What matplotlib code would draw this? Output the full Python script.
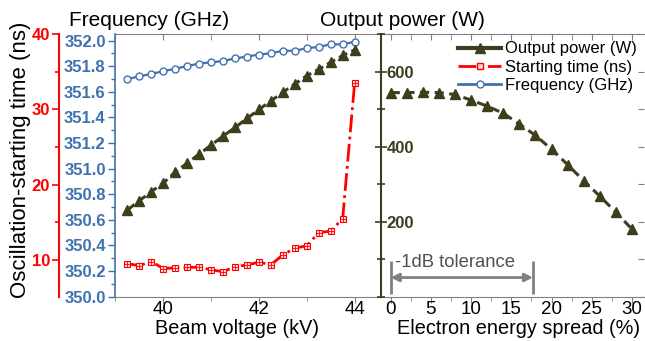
import matplotlib
matplotlib.use("Agg")
import matplotlib.pyplot as plt
from matplotlib.lines import Line2D
from matplotlib.ticker import MultipleLocator

plt.rcParams['font.family'] = ['Liberation Sans', 'DejaVu Sans']

# data
voltage = [39.25, 39.5, 39.75, 40.0, 40.25, 40.5, 40.75, 41.0, 41.25, 41.5,
           41.75, 42.0, 42.25, 42.5, 42.75, 43.0, 43.25, 43.5, 43.75, 44.0]
freq = [351.70, 351.72, 351.74, 351.76, 351.78, 351.80, 351.82, 351.83, 351.84, 351.86,
        351.875, 351.89, 351.90, 351.92, 351.92, 351.94, 351.95, 351.97, 351.97, 351.99]
power_v = [231, 256, 280, 303, 332, 356, 380, 404, 428, 451,
           475, 499, 522, 545, 567, 589, 606, 625, 643, 658]
start_time = [9.47, 9.24, 9.77, 8.84, 8.94, 8.98, 9.03, 8.67, 8.41, 9.11,
              9.30, 9.69, 9.34, 10.66, 11.55, 11.86, 13.62, 13.81, 15.48, 33.5]

spread = [0, 2, 4, 6, 8, 10, 12, 14, 16, 18, 20, 22, 24, 26, 28, 30]
power_s = [544, 544, 545, 544, 539, 524, 508, 489, 460, 430,
           393, 352, 309, 268, 225, 180]

tol_range = [0, 17.7]

OLIVE = '#3e3e1c'
BLUE = '#3f72af'
RED = '#ff0000'
GRAY = '#808080'

fig = plt.figure(figsize=(6.45, 3.41), dpi=100)
ax1 = fig.add_axes([0.179, 0.130, 0.4116, 0.770])
ax_r = fig.add_axes([0.5907, 0.130, 0.4078, 0.770])
ax_r.set_facecolor('none')

# --- left panel: frequency axis (blue)
ax1.plot(voltage, freq, '-', color=BLUE, lw=1.6, marker='o', ms=5,
         mfc='white', mec=BLUE, mew=1, zorder=3)
ax1.set_xlim(39.0, 44.55)
ax1.set_ylim(350.0, 352.05)
ax1.yaxis.set_major_locator(MultipleLocator(0.2))
ax1.yaxis.set_minor_locator(MultipleLocator(0.1))
ax1.yaxis.set_major_formatter(plt.FormatStrFormatter('%.1f'))
ax1.xaxis.set_major_locator(MultipleLocator(2))
ax1.xaxis.set_minor_locator(MultipleLocator(1))
ax1.tick_params(axis='y', which='both', colors=BLUE, direction='out', pad=2)
ax1.tick_params(axis='y', which='major', length=5, width=1)
ax1.tick_params(axis='y', which='minor', length=3, width=1)
ax1.tick_params(axis='x', which='both', direction='out', color=GRAY, labelsize=13.5, pad=-1)
ax1.tick_params(axis='x', which='major', length=4)
ax1.tick_params(axis='x', which='minor', length=3)
for lab in ax1.get_yticklabels():
    lab.set_fontweight('bold')
    lab.set_fontsize(12)
ax1.spines['left'].set_color(BLUE)
ax1.spines['left'].set_linewidth(1.2)
ax1.spines['right'].set_visible(False)
ax1.spines['top'].set_visible(False)
ax1.spines['bottom'].set_color(GRAY)

top1 = ax1.secondary_xaxis('top')
top1.xaxis.set_major_locator(MultipleLocator(2))
top1.xaxis.set_minor_locator(MultipleLocator(1))
top1.tick_params(which='both', direction='in', length=4, color=GRAY, labeltop=False)
top1.spines['top'].set_color(GRAY)

# --- starting time axis (red), offset to the left
ax_red = ax1.twinx()
ax_red.plot(voltage, start_time, '-.', color=RED, lw=2, marker='s', ms=4.5,
            mfc='#ffd8d8', mec=RED, mew=0.8, zorder=3)
ax_red.plot(voltage, start_time, ls='none', marker='+', ms=4, mec=RED, mew=0.6, zorder=4)
ax_red.set_ylim(5.1, 40)
ax_red.spines['left'].set_position(('outward', 41))
ax_red.spines['left'].set_visible(True)
ax_red.spines['left'].set_color(RED)
ax_red.spines['left'].set_linewidth(1.5)
for s in ['right', 'top', 'bottom']:
    ax_red.spines[s].set_visible(False)
ax_red.yaxis.set_ticks_position('left')
ax_red.yaxis.set_label_position('left')
ax_red.yaxis.set_major_locator(MultipleLocator(10))
ax_red.yaxis.set_minor_locator(MultipleLocator(5))
ax_red.tick_params(axis='y', which='both', colors=RED, direction='out', pad=1)
ax_red.tick_params(axis='y', which='major', length=5, width=1.2)
ax_red.tick_params(axis='y', which='minor', length=3, width=1.2)
for lab in ax_red.get_yticklabels():
    lab.set_fontweight('bold')
    lab.set_fontsize(12)

# --- output power axis (olive), shared by both panels
ax_pow = ax1.twinx()
ax_pow.plot(voltage, power_v, '--', color=OLIVE, lw=2.2, dashes=(3, 1.5),
            marker='^', ms=6.5, mfc=OLIVE, mec=OLIVE, zorder=4)
ax_pow.set_ylim(0, 700)
ax_pow.yaxis.set_major_locator(MultipleLocator(200))
ax_pow.yaxis.set_minor_locator(MultipleLocator(100))
ax_pow.tick_params(axis='y', which='both', colors=OLIVE, direction='inout', pad=0)
ax_pow.tick_params(axis='y', which='major', length=8, width=1.2)
ax_pow.tick_params(axis='y', which='minor', length=6, width=1.2)
ax_pow.set_yticks([200, 400, 600])
for lab in ax_pow.get_yticklabels():
    lab.set_fontweight('bold')
    lab.set_fontsize(12)
ax_pow.spines['right'].set_color(OLIVE)
ax_pow.spines['right'].set_linewidth(1.5)
for s in ['left', 'top', 'bottom']:
    ax_pow.spines[s].set_visible(False)

# --- right panel: power vs energy spread
ax_r.plot(spread, power_s, '--', color=OLIVE, lw=2.2, dashes=(3, 1.8),
          marker='^', ms=6.5, mfc=OLIVE, mec=OLIVE, zorder=4)
ax_r.set_xlim(-1.2, 31.5)
ax_r.set_ylim(0, 700)
ax_r.xaxis.set_major_locator(MultipleLocator(5))
ax_r.xaxis.set_minor_locator(MultipleLocator(2.5))
ax_r.yaxis.set_major_locator(MultipleLocator(100))
ax_r.yaxis.tick_right()
ax_r.tick_params(axis='y', which='both', direction='in', length=4, color=GRAY, labelright=False)
ax_r.tick_params(axis='x', which='both', direction='out', color=GRAY, labelsize=13.5, pad=-1)
ax_r.tick_params(axis='x', which='major', length=4)
ax_r.tick_params(axis='x', which='minor', length=3)
ax_r.spines['left'].set_visible(False)
ax_r.spines['right'].set_visible(False)
ax_r.spines['top'].set_visible(False)
ax_r.spines['bottom'].set_color(GRAY)

top2 = ax_r.secondary_xaxis('top')
top2.xaxis.set_major_locator(MultipleLocator(5))
top2.xaxis.set_minor_locator(MultipleLocator(2.5))
top2.tick_params(which='both', direction='in', length=4, color=GRAY, labeltop=False)
top2.spines['top'].set_color(GRAY)

# -1dB tolerance marker
for xv in tol_range:
    ax_r.plot([xv, xv], [7, 96], color=GRAY, lw=2, solid_capstyle='butt')
ax_r.annotate('', xy=(tol_range[0], 51), xytext=(tol_range[1], 51),
              arrowprops=dict(arrowstyle='<|-|>', color=GRAY, lw=2,
                              mutation_scale=12, shrinkA=0, shrinkB=0))
ax_r.text(0.6, 92, '-1dB tolerance', fontsize=13.3, color='#505050', ha='left', va='center')

handles = [
    Line2D([], [], color=OLIVE, lw=3, marker='^', ms=6.5, mfc=OLIVE, mec=OLIVE),
    Line2D([], [], color=RED, lw=2, ls='-.', marker='s', ms=4.5, mfc='#ffd8d8', mec=RED),
    Line2D([], [], color=BLUE, lw=2, marker='o', ms=5, mfc='white', mec=BLUE),
]
ax_r.legend(handles, ['Output power (W)', 'Starting time (ns)', 'Frequency (GHz)'],
            loc='upper right', bbox_to_anchor=(1.01, 1.01), frameon=False,
            fontsize=12, handlelength=2.6, handletextpad=0.2, labelspacing=0.2,
            borderaxespad=0.2)

# axis titles
fig.text(149 / 645, 1 - 26 / 341, 'Frequency (GHz)', fontsize=15, ha='center', va='baseline')
fig.text(402 / 645, 1 - 26 / 341, 'Output power (W)', fontsize=15, ha='center', va='baseline')
fig.text(21 / 645, 1 - 159.5 / 341, 'Oscillation-starting time (ns)', fontsize=16,
         rotation=90, ha='center', va='center')
fig.text(237 / 645, 1 - 334 / 341, 'Beam voltage (kV)', fontsize=14.3, ha='center',
         va='baseline')
fig.text(519 / 645, 1 - 334 / 341, 'Electron energy spread (%)', fontsize=14.3,
         ha='center', va='baseline')

fig.savefig('out.png', dpi=100)
